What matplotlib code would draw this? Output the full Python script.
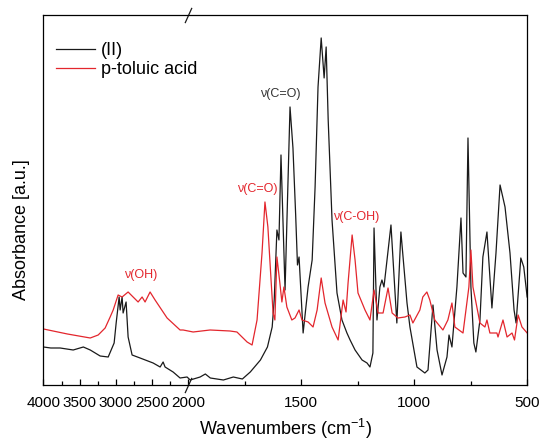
import numpy as np
import matplotlib
matplotlib.use("Agg")
import matplotlib.pyplot as plt

plt.rcParams['font.family'] = ['Liberation Sans', 'DejaVu Sans']
plt.rcParams['mathtext.default'] = 'regular'

# spectrum of (II) (wavenumber, absorbance a.u.)
ii_wn = [4000, 3900, 3770, 3590, 3450, 3355, 3218, 3107, 3066, 3025, 2997, 2956, 2942,
         2915, 2901, 2860, 2832, 2777, 2667, 2487, 2390, 2349, 2322, 2211, 2115, 2018,
         1992, 1948, 1925, 1903, 1845, 1801, 1761, 1726, 1681, 1650, 1629, 1620, 1608,
         1599, 1590, 1572, 1550, 1537, 1525, 1517, 1510, 1492, 1470, 1452, 1439, 1426,
         1412, 1399, 1390, 1381, 1364, 1342, 1320, 1298, 1284, 1262, 1231, 1209, 1196,
         1183, 1178, 1165, 1152, 1143, 1134, 1103, 1077, 1059, 1032, 1019, 988, 953,
         939, 917, 899, 877, 855, 846, 833, 811, 793, 784, 771, 762, 749, 736, 727, 709,
         696, 678, 656, 638, 620, 598, 576, 558, 549, 528, 515, 500]
ii_abs = [38, 37, 37, 35, 38, 35, 29, 28, 35, 42, 62, 88, 75,
          88, 72, 83, 48, 30, 27, 22, 18, 23, 18, 13, 7, 8,
          5, 8, 11, 7, 5, 8, 6, 13, 25, 38, 58, 85, 155,
          145, 230, 95, 278, 237, 170, 120, 128, 52, 98, 125, 198, 298,
          347, 307, 338, 265, 165, 92, 65, 52, 45, 35, 25, 22, 18,
          32, 157, 65, 98, 105, 98, 160, 62, 153, 82, 58, 18, 12,
          15, 80, 35, 10, 28, 50, 38, 98, 167, 112, 108, 247, 98, 42, 33, 65,
          128, 153, 77, 132, 200, 178, 132, 75, 62, 127, 118, 88]

# spectrum of p-toluic acid
tol_wn = [4000, 3670, 3355, 3245, 3149, 3080, 3038, 2970, 2915, 2832, 2763, 2694, 2639,
          2598, 2529, 2460, 2294, 2115, 2073, 1979, 1904, 1816, 1785, 1740, 1718, 1696,
          1674, 1661, 1648, 1634, 1625, 1617, 1608, 1595, 1586, 1577, 1564, 1542, 1528,
          1510, 1497, 1470, 1448, 1430, 1412, 1395, 1364, 1337, 1315, 1302, 1293, 1275,
          1262, 1249, 1218, 1196, 1178, 1160, 1138, 1116, 1098, 1072, 1041, 1019, 1006,
          975, 962, 944, 931, 909, 873, 851, 833, 820, 784, 758, 749, 740, 709, 687,
          678, 665, 634, 629, 607, 589, 567, 556, 540, 523, 500]
tol_abs = [56, 51, 47, 50, 57, 68, 75, 90, 88, 93, 88, 83, 88,
           83, 93, 85, 67, 55, 55, 53, 55, 54, 53, 43, 40, 65,
           132, 183, 158, 105, 72, 65, 128, 102, 83, 98, 78, 65, 67,
           75, 65, 63, 58, 75, 107, 82, 58, 45, 85, 73, 102, 150,
           125, 92, 75, 65, 95, 72, 72, 97, 72, 67, 68, 70, 62,
           75, 88, 93, 85, 65, 55, 65, 82, 58, 52, 98, 135, 98, 62, 58,
           65, 52, 52, 48, 65, 48, 52, 45, 70, 58, 52]

major_ticks = [4000, 3500, 3000, 2500, 2000, 1500, 1000, 500]
minor_ticks = [3750, 3250, 2750, 2250, 1750, 1250, 750]
break_at = 2000
squeeze = 0.3208  # 4000-2000 part is compressed

ann_text = ['\u03bd(OH)', '\u03bd(C=O)', '\u03bd(C=O)', '\u03bd(C-OH)']
ann_wn = [2660, 1696, 1591, 1258]
ann_y = [110, 196, 291, 168]
ann_col = ['#e3262d', '#e3262d', '#333333', '#e3262d']

red = '#e3262d'


def fwd(w):
    w = np.asarray(w, dtype=float)
    return np.where(w <= break_at, w, break_at + (w - break_at) * squeeze)


def inv(u):
    u = np.asarray(u, dtype=float)
    return np.where(u <= break_at, u, break_at + (u - break_at) / squeeze)


fig = plt.figure(figsize=(5.41, 4.40), dpi=100)
ax = fig.add_axes([0.0804, 0.125, 0.894, 0.841])
ax.set_xscale('function', functions=(fwd, inv))

ax.plot(ii_wn, ii_abs, color='#1a1a1a', lw=0.9, label='(II)')
ax.plot(tol_wn, tol_abs, color=red, lw=0.9, label='p-toluic acid')

ax.set_xlim(4000, 500)
ax.set_ylim(0, 370)
ax.set_xticks(major_ticks)
ax.set_xticklabels([str(t) for t in major_ticks])
ax.set_xticks(minor_ticks, minor=True)
ax.set_yticks([])
ax.tick_params(axis='x', which='both', direction='in', labelsize=11, pad=8, width=0.9)
ax.tick_params(axis='x', which='major', length=4)
ax.tick_params(axis='x', which='minor', length=3)
for s in ax.spines.values():
    s.set_linewidth(0.9)

# axis break marks
ax.plot([break_at, break_at], [0, 1], transform=ax.get_xaxis_transform(),
        marker=[(-0.45, -1), (0.45, 1)], markersize=11, linestyle='none',
        color='#1a1a1a', mew=0.9, clip_on=False)

for t, w, y, c in zip(ann_text, ann_wn, ann_y, ann_col):
    ax.text(w, y, t, color=c, fontsize=9, ha='center', va='center')

ax.set_xlabel('Wavenumbers (cm$^{-1}$)', fontsize=13, labelpad=5)
ax.set_ylabel('Absorbance [a.u.]', fontsize=13)
ax.yaxis.set_label_coords(-0.028, 0.42)

ax.legend(loc='upper left', bbox_to_anchor=(-0.012, 0.975), frameon=False, fontsize=13,
          handlelength=2.2, handletextpad=0.3, labelspacing=0.1, borderaxespad=0.6)

fig.savefig('out.png', dpi=100)
